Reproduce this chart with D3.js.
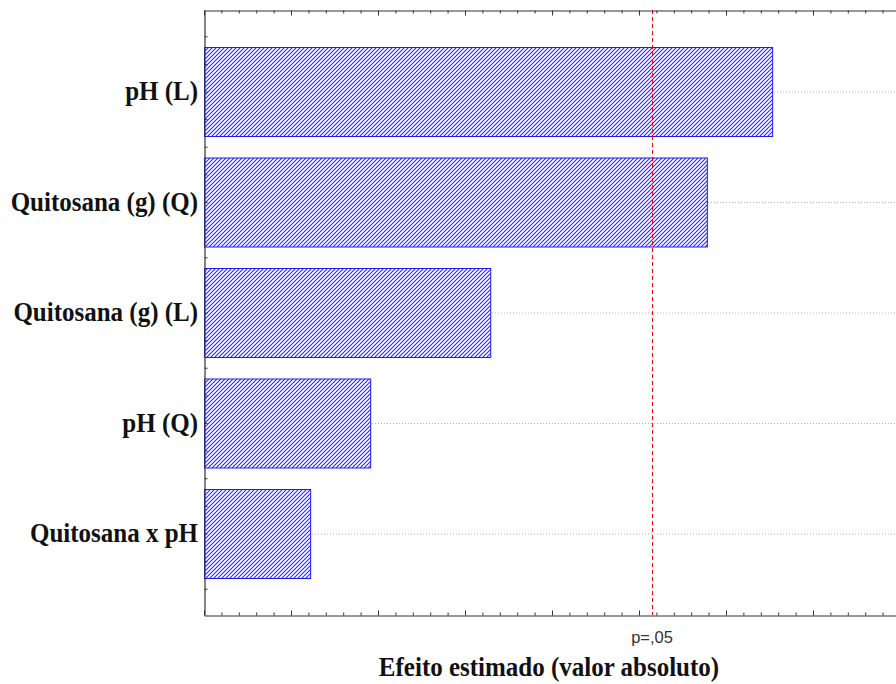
<!DOCTYPE html>
<html>
<head>
<meta charset="utf-8">
<script src="https://cdn.jsdelivr.net/npm/d3@7"></script>
<style>
html,body{margin:0;padding:0;background:#fff;}
svg{display:block;}
</style>
</head>
<body>
<svg id="chart" width="896" height="684"></svg>
<script>
// Data
const categories = ["pH (L)", "Quitosana (g) (Q)", "Quitosana (g) (L)", "pH (Q)", "Quitosana x pH"];
const effects = [6.53, 5.78, 3.29, 1.91, 1.22];
const pLineValue = 5.15;
const pLineLabel = "p=,05";
const xTitle = "Efeito estimado (valor absoluto)";

(function () {
const svg = d3.select("#chart");
const mLeft = 204, mRight = 900, mTop = 10, mBottom = 615;

const x = d3.scaleLinear().domain([0, 8]).range([mLeft, mRight]);
const pad = 0.7376;
const y = d3.scaleLinear().domain([-pad, categories.length - 1 + pad]).range([mTop, mBottom]);
const barH = 89;

// hatch pattern
const defs = svg.append("defs");
const pat = defs.append("pattern").attr("id", "hatch").attr("patternUnits", "userSpaceOnUse")
  .attr("width", 4).attr("height", 4);
pat.append("rect").attr("width", 4).attr("height", 4).attr("fill", "#fff");
pat.append("path").attr("d", "M-1,1 l2,-2 M0,4 l4,-4 M3,5 l2,-2")
  .attr("stroke", "#2a2af0").attr("stroke-width", 1.1);

// gridlines
svg.append("g").selectAll("line").data(categories).join("line")
  .attr("x1", mLeft).attr("x2", mRight)
  .attr("y1", (d, i) => y(i) + 0.5).attr("y2", (d, i) => y(i) + 0.5)
  .attr("stroke", "#b0b0b0").attr("stroke-width", 1).attr("stroke-dasharray", "1,2");

// bars
svg.append("g").selectAll("rect").data(effects).join("rect")
  .attr("x", x(0) + 0.5)
  .attr("y", (d, i) => y(i) - barH / 2 + 0.5)
  .attr("width", d => x(d) - x(0))
  .attr("height", barH)
  .attr("fill", "url(#hatch)")
  .attr("stroke", "#1a1aff").attr("stroke-width", 1);

// p line
svg.append("line")
  .attr("x1", Math.round(x(pLineValue)) + 0.5).attr("x2", Math.round(x(pLineValue)) + 0.5)
  .attr("y1", mTop).attr("y2", mBottom)
  .attr("stroke", "#ff0000").attr("stroke-width", 1).attr("stroke-dasharray", "4,3");

// axes
const minorTicks = d3.range(0, 8.001, 0.2);
const bottomAxis = d3.axisBottom(x).tickValues(minorTicks).tickSizeInner(-3).tickSizeOuter(0).tickFormat("");
const topAxis = d3.axisTop(x).tickValues(minorTicks).tickSizeInner(-3).tickSizeOuter(0).tickFormat("");
const gB = svg.append("g").attr("transform", `translate(0,${mBottom + 0.5})`).call(bottomAxis);
const gT = svg.append("g").attr("transform", `translate(0,${mTop + 0.5})`).call(topAxis);
[gB, gT].forEach(g => {
  g.select(".domain").attr("stroke", "#333").attr("stroke-width", 1.2);
  g.selectAll(".tick line").attr("stroke", "#333")
    .attr("y2", function(d) {
      const isMajor = Math.abs(d - Math.round(d)) < 1e-6;
      const v = +d3.select(this).attr("y2");
      return isMajor ? v * 5 / 3 : v;
    });
});

const yTicks = d3.range(-0.75, categories.length - 1 + pad + 0.001, 0.25).filter(v => y(v) > mTop + 2 && y(v) < mBottom - 2);
const leftAxis = d3.axisLeft(y).tickValues(yTicks).tickSizeInner(-3).tickSizeOuter(0).tickFormat("");
const gL = svg.append("g").attr("transform", `translate(${mLeft + 0.5},0)`).call(leftAxis);
gL.select(".domain").attr("stroke", "#333").attr("stroke-width", 1.2);
gL.selectAll(".tick line").attr("stroke", "#333");

// category labels
svg.append("g").selectAll("text").data(categories).join("text")
  .attr("transform", (d, i) => `translate(198,${y(i)}) scale(1,1.08)`)
  .attr("text-anchor", "end").attr("dominant-baseline", "central")
  .attr("font-family", "'Liberation Serif','Times New Roman',serif")
  .attr("font-weight", "bold").attr("font-size", 25)
  .attr("fill", "#111")
  .text(d => d);

// p label
svg.append("text").attr("x", x(pLineValue)).attr("y", 643)
  .attr("text-anchor", "middle")
  .attr("font-family", "'Liberation Sans',Arial,sans-serif")
  .attr("font-size", 16.5).attr("fill", "#333")
  .text(pLineLabel);

// x title
svg.append("text").attr("transform", "translate(549,676) scale(1,1.08)")
  .attr("text-anchor", "middle")
  .attr("font-family", "'Liberation Serif','Times New Roman',serif")
  .attr("font-weight", "bold").attr("font-size", 25)
  .attr("fill", "#111")
  .text(xTitle);
})();
</script>
</body>
</html>
